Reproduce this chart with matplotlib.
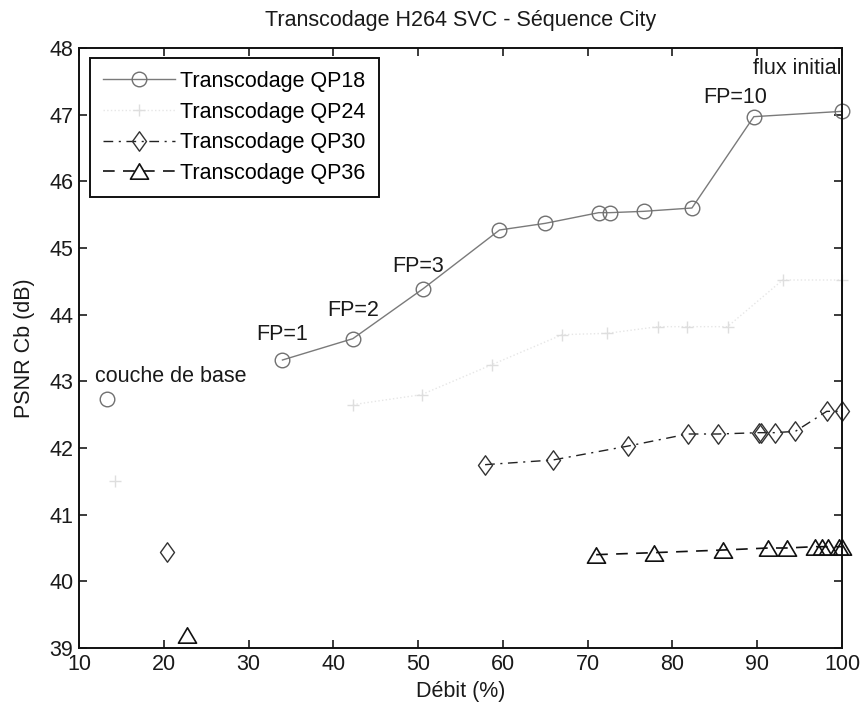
import matplotlib
matplotlib.use("Agg")
import matplotlib.pyplot as plt
from matplotlib.path import Path

plt.rcParams['font.family'] = ['Liberation Sans', 'DejaVu Sans']

# ---- data ----
qp18_x = [13.3, 34.0, 42.3, 50.6, 59.6, 65.0, 71.3, 72.6, 76.6, 82.3, 89.6, 100.0]
qp18_y = [42.73, 43.32, 43.64, 44.39, 45.27, 45.37, 45.53, 45.53, 45.55, 45.60, 46.97, 47.05]
qp24_x = [14.3, 42.3, 50.4, 58.7, 67.0, 72.3, 78.3, 81.7, 86.5, 93.0, 100.0]
qp24_y = [41.50, 42.65, 42.80, 43.25, 43.70, 43.72, 43.82, 43.82, 43.82, 44.52, 44.52]
qp30_x = [20.4, 57.9, 65.9, 74.8, 81.8, 85.4, 90.2, 90.5, 92.1, 94.5, 98.2, 100.0]
qp30_y = [40.44, 41.75, 41.82, 42.03, 42.21, 42.21, 42.23, 42.23, 42.23, 42.25, 42.55, 42.55]
qp36_x = [22.7, 71.0, 77.8, 86.0, 91.3, 93.5, 96.8, 97.6, 98.3, 99.6, 100.0]
qp36_y = [39.20, 40.40, 40.43, 40.47, 40.50, 40.50, 40.52, 40.52, 40.52, 40.52, 40.52]
labels = ['Transcodage QP18', 'Transcodage QP24', 'Transcodage QP30', 'Transcodage QP36']

annotations = [
    ('couche de base', 11.9, 43.07, 'left'),
    ('FP=1', 34.0, 43.70, 'center'),
    ('FP=2', 42.3, 44.07, 'center'),
    ('FP=3', 50.0, 44.72, 'center'),
    ('FP=10', 87.4, 47.26, 'center'),
    ('flux initial', 99.9, 47.69, 'right'),
]

diamond = Path([(0, 1), (0.72, 0), (0, -1), (-0.72, 0), (0, 1)],
               [Path.MOVETO, Path.LINETO, Path.LINETO, Path.LINETO, Path.CLOSEPOLY])
tri = Path([(0, 0.85), (1, -0.85), (-1, -0.85), (0, 0.85)],
           [Path.MOVETO, Path.LINETO, Path.LINETO, Path.CLOSEPOLY])

fig = plt.figure(figsize=(8.61, 7.09), dpi=100)
ax = fig.add_axes([79/861, 1-648/709, (842-79)/861, (648-48)/709])

styles = [
    dict(color='#7a7a7a', ls='-', lw=1.0, marker='o', ms=10.5, mfc='none', mec='#707070', mew=1.0),
    dict(color='#e6e6e6', ls=':', lw=1.0, marker='+', ms=9, mfc='none', mec='#dedede', mew=1.0),
    dict(color='#222222', ls=(0, (7, 4, 1.5, 4)), lw=1.0, marker=diamond, ms=14, mfc='none', mec='#333333', mew=1.0),
    dict(color='#111111', ls=(0, (7, 5)), lw=1.2, marker=tri, ms=13, mfc='none', mec='#111111', mew=1.2),
]
series = [(qp18_x, qp18_y), (qp24_x, qp24_y), (qp30_x, qp30_y), (qp36_x, qp36_y)]
handles = []
for (xs, ys), st, lab in zip(series, styles, labels):
    h, = ax.plot(xs[1:], ys[1:], label=lab, clip_on=False, **st)
    st2 = dict(st)
    st2['ls'] = 'none'
    ax.plot(xs[:1], ys[:1], clip_on=False, **st2)
    handles.append(h)

FS = 15.5
for txt, x, y, ha in annotations:
    ax.text(x, y, txt, ha=ha, va='center', fontsize=FS, color='#1a1a1a')

ax.set_xlim(10, 100)
ax.set_ylim(39, 48)
ax.set_xticks(range(10, 101, 10))
ax.set_yticks(range(39, 49))
ax.tick_params(direction='in', length=6, width=1.2, top=True, right=True,
               labelsize=15.5, colors='#1a1a1a', pad=4)
for s in ax.spines.values():
    s.set_linewidth(1.4)
    s.set_color('#111111')

ax.set_title('Transcodage H264 SVC - Séquence City', fontsize=FS, color='#1a1a1a', pad=16)
ax.set_xlabel('Débit (%)', fontsize=FS, color='#1a1a1a', labelpad=5)
ax.set_ylabel('PSNR Cb (dB)', fontsize=FS, color='#1a1a1a', labelpad=10)

leg = ax.legend(handles=handles, loc='upper left', bbox_to_anchor=(11/763, 1-10/600),
                borderaxespad=0, fancybox=False, framealpha=1, edgecolor='#111111',
                fontsize=FS, handlelength=3.35, handletextpad=0.25, labelspacing=0.45,
                borderpad=0.6)
leg.get_frame().set_linewidth(1.4)

fig.savefig('out.png', dpi=100)
